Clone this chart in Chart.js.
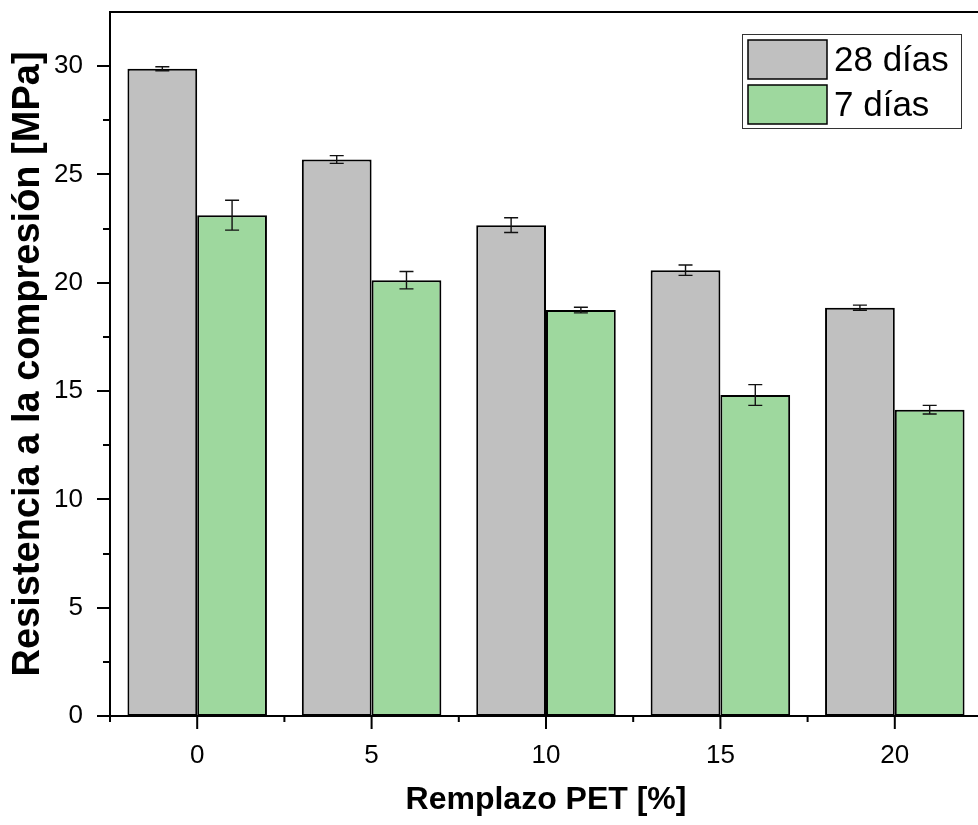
<!DOCTYPE html>
<html>
<head>
<meta charset="utf-8">
<script src="https://cdn.jsdelivr.net/npm/chart.js@4/dist/chart.umd.min.js"></script>
<style>
  html, body { margin: 0; padding: 0; background: #fff; overflow: hidden; }
  #wrap { width: 985px; height: 825px; }
</style>
</head>
<body>
<div id="wrap"><canvas id="chart" width="985" height="825"></canvas></div>
<script>
// Compressive strength vs. PET replacement, 28 and 7 days
const reemplazo = ["0", "5", "10", "15", "20"];
const dias28 = [29.88, 25.69, 22.66, 20.58, 18.85];
const err28 = [0.09, 0.18, 0.34, 0.24, 0.12];
const dias7 = [23.12, 20.12, 18.74, 14.82, 14.14];
const err7 = [0.69, 0.40, 0.13, 0.48, 0.20];

const FONT = 'Arial, "Liberation Sans", sans-serif';
const GRIS = "rgb(192,192,192)";
const VERDE = "rgb(158,216,158)";

// error bars for every bar, drawn from the datasets' err arrays
const errorBars = {
  id: "errorBars",
  afterDatasetsDraw(chart) {
    const ctx = chart.ctx, y = chart.scales.y;
    ctx.save();
    ctx.strokeStyle = "#111";
    ctx.lineWidth = 1.4;
    chart.data.datasets.forEach((ds, i) => {
      chart.getDatasetMeta(i).data.forEach((bar, j) => {
        const v = ds.data[j], e = ds.err[j];
        const top = y.getPixelForValue(v + e), bot = y.getPixelForValue(v - e);
        ctx.beginPath();
        ctx.moveTo(bar.x, top); ctx.lineTo(bar.x, bot);
        ctx.moveTo(bar.x - 7, top); ctx.lineTo(bar.x + 7, top);
        ctx.moveTo(bar.x - 7, bot); ctx.lineTo(bar.x + 7, bot);
        ctx.stroke();
      });
    });
    ctx.restore();
  }
};

// box frame with outward major/minor ticks, plus the legend box
const frame = {
  id: "frame",
  afterDraw(chart) {
    const ctx = chart.ctx, a = chart.chartArea;
    const x = chart.scales.x, y = chart.scales.y;
    ctx.save();
    ctx.strokeStyle = "#000";
    ctx.lineWidth = 2;
    ctx.strokeRect(a.left, a.top, a.right - a.left, a.bottom - a.top);

    ctx.beginPath();
    for (let v = 0; v <= 30; v += 2.5) {
      const py = Math.round(y.getPixelForValue(v));
      const len = v % 5 === 0 ? 13 : 7;
      ctx.moveTo(a.left, py); ctx.lineTo(a.left - len, py);
    }
    const step = x.getPixelForValue(1) - x.getPixelForValue(0);
    reemplazo.forEach((_, i) => {
      const px = x.getPixelForValue(i);
      ctx.moveTo(px, a.bottom); ctx.lineTo(px, a.bottom + 13);
      ctx.moveTo(px - step / 2, a.bottom); ctx.lineTo(px - step / 2, a.bottom + 6);
    });
    ctx.stroke();

    // legend
    const lx = a.right - 240, ly = a.top + 22;
    ctx.lineWidth = 1;
    ctx.strokeStyle = "#333";
    ctx.strokeRect(lx + 0.5, ly + 0.5, 219, 94);
    ctx.font = "35px " + FONT;
    ctx.textBaseline = "middle";
    chart.data.datasets.forEach((ds, i) => {
      const sy = ly + 6 + i * 45;
      ctx.fillStyle = ds.backgroundColor;
      ctx.fillRect(lx + 6, sy, 79, 39);
      ctx.lineWidth = 1.5;
      ctx.strokeStyle = "#000";
      ctx.strokeRect(lx + 6, sy, 79, 39);
      ctx.fillStyle = "#000";
      ctx.fillText(ds.label, lx + 92, sy + 21);
    });
    ctx.restore();
  }
};

new Chart(document.getElementById("chart"), {
  type: "bar",
  data: {
    labels: reemplazo,
    datasets: [
      { label: "28 días", data: dias28, err: err28,
        backgroundColor: GRIS, borderColor: "#000", borderWidth: 2, borderSkipped: false },
      { label: "7 días", data: dias7, err: err7,
        backgroundColor: VERDE, borderColor: "#000", borderWidth: 2, borderSkipped: false },
    ],
  },
  options: {
    responsive: false,
    animation: false,
    layout: { padding: { top: 12, right: 3, left: 0, bottom: 0 } },
    datasets: { bar: { categoryPercentage: 0.8, barPercentage: 1 } },
    plugins: { legend: { display: false }, tooltip: { enabled: false } },
    scales: {
      x: {
        grid: { display: false, drawTicks: false },
        border: { display: false },
        ticks: { color: "#000", font: { family: FONT, size: 26 }, padding: 24, maxRotation: 0 },
        title: { display: true, text: "Remplazo PET [%]", color: "#000",
                 font: { family: FONT, size: 32, weight: "bold" }, padding: { top: 0, bottom: 6 } },
        afterFit: s => { s.height = 109; s.paddingLeft = 0; s.paddingRight = 0; },
      },
      y: {
        min: 0, max: 32.5,
        grid: { display: false, drawTicks: false },
        border: { display: false },
        ticks: { stepSize: 5, includeBounds: false, color: "#000",
                 font: { family: FONT, size: 26 }, padding: 27 },
        title: { display: true, text: "Resistencia a la compresión [MPa]", color: "#000",
                 font: { family: FONT, size: 38, weight: "bold" }, padding: { top: 6, bottom: 0 } },
        afterFit: s => { s.width = 110; s.paddingTop = 0; s.paddingBottom = 0; },
      },
    },
  },
  plugins: [errorBars, frame],
});
</script>
</body>
</html>
